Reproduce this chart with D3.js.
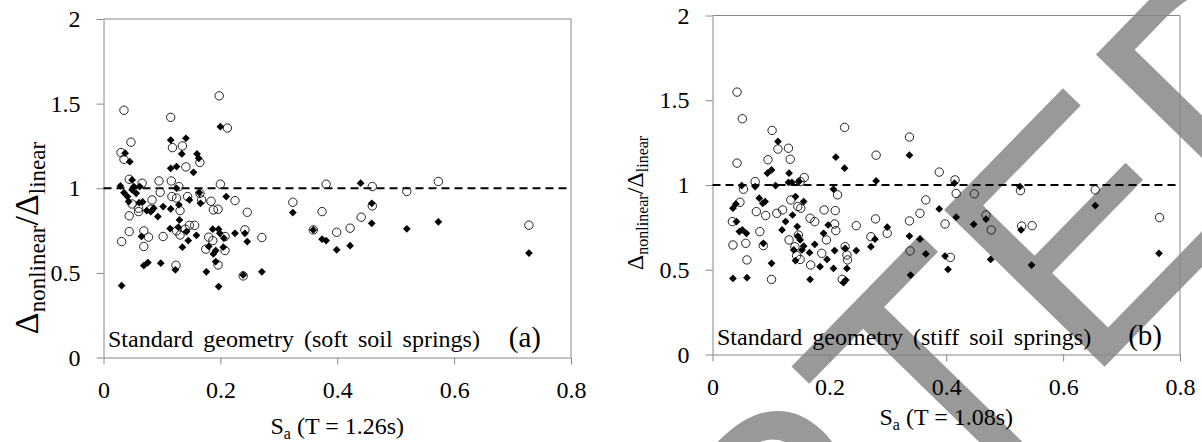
<!DOCTYPE html>
<html>
<head>
<meta charset="utf-8">
<script src="https://cdn.jsdelivr.net/npm/d3@7"></script>
<style>
  body { margin: 0; background: #fff; }
  svg { display: block; }
  .serif { font-family: "Liberation Serif", "Times New Roman", serif; }
</style>
</head>
<body>
<div id="chart"></div>
<script>
'use strict';

// tick values shared by both panels
var xTicks = [0, 0.2, 0.4, 0.6, 0.8];
var yTicks = [0, 0.5, 1, 1.5, 2];

// (a) soft soil springs, T = 1.26s  -- [Sa, ratio]
var softCircles = [
  [0.035,1.461],[0.198,1.546],[0.115,1.419],[0.212,1.356],[0.047,1.272],[0.030,1.211],[0.035,1.171],
  [0.118,1.240],[0.135,1.250],[0.141,1.126],[0.165,1.152],[0.044,1.053],[0.066,1.030],[0.095,1.043],
  [0.116,1.043],[0.129,1.010],[0.200,1.024],[0.097,0.976],[0.083,0.931],[0.117,0.951],[0.144,0.951],
  [0.165,0.970],[0.168,0.931],[0.184,0.923],[0.225,0.927],[0.188,0.872],[0.196,0.876],[0.246,0.858],
  [0.049,0.907],[0.060,0.862],[0.044,0.837],[0.081,0.876],[0.131,0.868],[0.147,0.781],[0.156,0.781],
  [0.044,0.744],[0.069,0.748],[0.077,0.711],[0.031,0.685],[0.069,0.656],[0.102,0.715],[0.125,0.748],
  [0.131,0.724],[0.140,0.758],[0.180,0.711],[0.187,0.691],[0.175,0.640],[0.208,0.715],[0.208,0.632],
  [0.196,0.547],[0.124,0.545],[0.242,0.754],[0.271,0.709],[0.239,0.482],[0.060,0.882],[0.125,0.942],
  [0.324,0.917],[0.381,1.024],[0.374,0.862],[0.359,0.754],[0.399,0.740],[0.422,0.764],[0.441,0.829],
  [0.460,1.010],[0.460,0.896],[0.519,0.981],[0.573,1.040],[0.728,0.782]
];
var softDiamonds = [
  [0.031,0.425],[0.037,1.207],[0.045,1.157],[0.029,1.014],[0.035,0.974],[0.041,0.951],[0.049,0.990],
  [0.052,1.010],[0.043,0.921],[0.056,0.970],[0.062,1.010],[0.049,1.049],[0.065,0.715],[0.069,0.543],
  [0.076,0.561],[0.098,0.557],[0.123,0.518],[0.061,0.915],[0.067,0.919],[0.074,0.868],[0.081,0.862],
  [0.086,0.882],[0.093,0.833],[0.102,0.892],[0.115,1.285],[0.115,1.118],[0.125,1.128],[0.134,1.203],
  [0.141,1.295],[0.154,1.094],[0.160,1.203],[0.163,1.177],[0.164,0.974],[0.166,0.911],[0.147,0.931],
  [0.125,1.000],[0.115,0.878],[0.130,0.813],[0.128,0.770],[0.114,0.762],[0.135,0.652],[0.145,0.691],
  [0.142,0.744],[0.159,0.722],[0.176,0.506],[0.180,0.656],[0.187,0.758],[0.188,0.612],[0.192,0.632],
  [0.197,0.758],[0.199,0.734],[0.192,0.567],[0.197,0.419],[0.200,1.364],[0.210,0.951],[0.206,0.705],
  [0.205,0.652],[0.225,0.734],[0.242,0.734],[0.246,0.685],[0.239,0.488],[0.271,0.506],[0.129,0.902],
  [0.324,0.856],[0.359,0.754],[0.374,0.699],[0.381,0.691],[0.399,0.636],[0.422,0.661],[0.440,1.030],
  [0.459,0.911],[0.459,0.793],[0.519,0.760],[0.573,0.802],[0.728,0.617]
];

// (b) stiff soil springs, T = 1.08s
var stiffCircles = [
  [0.042,1.548],[0.051,1.391],[0.042,1.129],[0.035,0.646],[0.034,0.784],[0.047,0.898],[0.053,0.975],
  [0.073,1.020],[0.075,0.843],[0.081,0.725],[0.091,0.820],[0.057,0.656],[0.059,0.558],[0.102,1.322],
  [0.095,1.149],[0.112,1.212],[0.130,1.217],[0.133,1.152],[0.110,0.833],[0.120,0.853],[0.134,0.912],
  [0.146,0.873],[0.151,0.863],[0.157,1.044],[0.150,1.020],[0.101,0.443],[0.087,0.642],[0.131,0.676],
  [0.147,0.705],[0.141,0.636],[0.150,0.561],[0.144,0.583],[0.167,0.804],[0.175,0.784],[0.168,0.528],
  [0.191,0.853],[0.187,0.597],[0.195,0.676],[0.210,0.849],[0.214,0.942],[0.209,0.770],[0.211,0.731],
  [0.226,1.340],[0.227,0.636],[0.230,0.587],[0.231,0.558],[0.222,0.443],[0.246,0.760],[0.271,0.695],
  [0.279,0.800],[0.280,1.176],[0.299,0.715],[0.337,1.283],[0.337,0.788],[0.338,0.611],[0.355,0.833],
  [0.365,0.912],[0.388,1.076],[0.398,0.770],[0.415,1.030],[0.417,0.950],[0.448,0.948],[0.407,0.573],
  [0.468,0.823],[0.477,0.735],[0.527,0.967],[0.529,0.758],[0.547,0.760],[0.655,0.971],[0.765,0.808]
];
var stiffDiamonds = [
  [0.035,0.449],[0.059,0.453],[0.035,0.863],[0.040,0.888],[0.050,0.997],[0.041,0.784],[0.046,0.725],
  [0.051,0.735],[0.058,0.715],[0.073,0.991],[0.080,0.922],[0.086,0.892],[0.090,0.902],[0.094,1.070],
  [0.101,1.089],[0.108,0.997],[0.112,1.257],[0.087,0.656],[0.101,0.538],[0.119,0.735],[0.125,0.784],
  [0.131,1.070],[0.130,1.015],[0.136,1.015],[0.137,0.823],[0.142,0.932],[0.145,0.755],[0.146,0.699],
  [0.148,1.020],[0.156,0.902],[0.139,0.617],[0.142,0.554],[0.150,0.676],[0.153,0.617],[0.156,0.640],
  [0.166,0.601],[0.167,0.443],[0.175,0.650],[0.184,0.518],[0.190,0.715],[0.196,0.561],[0.198,0.764],
  [0.207,0.975],[0.211,1.164],[0.226,1.099],[0.207,0.508],[0.209,0.613],[0.227,0.626],[0.230,0.508],
  [0.224,0.424],[0.228,0.439],[0.246,0.613],[0.271,0.636],[0.278,0.680],[0.280,1.024],[0.299,0.751],
  [0.337,1.176],[0.337,0.699],[0.339,0.469],[0.355,0.680],[0.365,0.593],[0.388,0.859],[0.398,0.581],
  [0.403,0.502],[0.414,1.011],[0.417,0.810],[0.447,0.768],[0.468,0.798],[0.476,0.561],[0.526,0.991],
  [0.528,0.735],[0.546,0.528],[0.655,0.879],[0.764,0.597]
];

var panels = [
  {circles: softCircles, diamonds: softDiamonds, period: "1.26s",
   note: "Standard geometry (soft soil springs)", tag: "(a)",
   left: 103.5, right: 571, top: 19, bottom: 357.5, tagEnd: 541,
   xTitleY: 434, yTitleX: 38, yTitleY: 238, yTitleSize: 34, noteY: 347},
  {circles: stiffCircles, diamonds: stiffDiamonds, period: "1.08s",
   note: "Standard geometry (stiff soil springs)", tag: "(b)",
   left: 712.5, right: 1180, top: 15.5, bottom: 354.5, tagEnd: 1162,
   xTitleY: 425, yTitleX: 643, yTitleY: 203, yTitleSize: 24, noteY: 345}
];

var axisGrey = "#868686";

var svg = d3.select("#chart").append("svg")
  .attr("width", 1202)
  .attr("height", 442);

// grey watermark behind the charts, anchored at the corner of the T bar
svg.append("text")
  .attr("transform", "translate(785,360) rotate(-45.7)")
  .attr("x", -1130.6)
  .attr("y", 233.4)
  .style("font-family", "'Liberation Sans', Arial, sans-serif")
  .style("font-size", "326px")
  .attr("fill", "#999")
  .text("ACCEPTED");

panels.forEach(function(p) {
  var x = d3.scaleLinear().domain([0, 0.8]).range([p.left, p.right]);
  var y = d3.scaleLinear().domain([0, 2]).range([p.bottom, p.top]);
  var g = svg.append("g");

  // top and right frame
  g.append("path")
    .attr("d", "M" + p.left + "," + p.top + "H" + p.right + "V" + p.bottom)
    .attr("fill", "none")
    .attr("stroke", axisGrey);

  var xAxis = g.append("g")
    .attr("transform", "translate(0," + p.bottom + ")")
    .call(d3.axisBottom(x).tickValues(xTicks).tickSize(7).tickSizeOuter(0)
      .tickPadding(16).tickFormat(d3.format("~g")));
  var yAxis = g.append("g")
    .attr("transform", "translate(" + p.left + ",0)")
    .call(d3.axisLeft(y).tickValues(yTicks).tickSize(7).tickSizeOuter(0)
      .tickPadding(16).tickFormat(d3.format("~g")));

  [xAxis, yAxis].forEach(function(a) {
    a.attr("font-family", null).attr("font-size", null).attr("class", "serif");
    a.select(".domain").attr("stroke", axisGrey);
    a.selectAll(".tick line").attr("stroke", axisGrey);
    a.selectAll(".tick text")
      .attr("fill", "#000")
      .style("font-size", "24px");
  });

  // reference line at ratio = 1
  g.append("line")
    .attr("x1", x(0)).attr("x2", x(0.8))
    .attr("y1", y(1)).attr("y2", y(1))
    .attr("stroke", "#000")
    .attr("stroke-width", 2)
    .attr("stroke-dasharray", "8,5");

  g.selectAll(".circ")
    .data(p.circles)
    .enter().append("circle")
    .attr("class", "circ")
    .attr("cx", function(d) { return x(d[0]); })
    .attr("cy", function(d) { return y(d[1]); })
    .attr("r", 4.2)
    .attr("fill", "none")
    .attr("stroke", "#222")
    .attr("stroke-width", 1);

  g.selectAll(".diam")
    .data(p.diamonds)
    .enter().append("path")
    .attr("class", "diam")
    .attr("d", d3.symbol(d3.symbolSquare, 30))
    .attr("transform", function(d) { return "translate(" + x(d[0]) + "," + y(d[1]) + ") rotate(45)"; })
    .attr("fill", "#000");

  // annotation inside the plot
  g.append("text")
    .attr("class", "serif")
    .attr("x", p.left + 4.5)
    .attr("y", p.noteY)
    .style("font-size", "24px")
    .style("word-spacing", "4px")
    .text(p.note);
  g.append("text")
    .attr("class", "serif")
    .attr("x", p.tagEnd)
    .attr("y", p.noteY)
    .attr("text-anchor", "end")
    .style("font-size", "29px")
    .text(p.tag);

  // x axis title  S_a (T = ...)
  var xt = g.append("text")
    .attr("class", "serif")
    .attr("x", (p.left + p.right) / 2)
    .attr("y", p.xTitleY)
    .attr("text-anchor", "middle")
    .style("font-size", "24px");
  xt.append("tspan").text("S");
  xt.append("tspan").attr("dy", 5).style("font-size", "16px").text("a");
  xt.append("tspan").attr("dy", -5).text(" (T = " + p.period + ")");

  // y axis title  Δnonlinear/Δlinear
  var s = p.yTitleSize, sub = Math.round(s * 0.67), sh = Math.round(s * 0.2);
  var yt = g.append("text")
    .attr("class", "serif")
    .attr("transform", "translate(" + p.yTitleX + "," + p.yTitleY + ") rotate(-90)")
    .attr("text-anchor", "middle")
    .style("font-size", s + "px");
  yt.append("tspan").text("\u0394");
  yt.append("tspan").attr("dy", sh).style("font-size", sub + "px").text("nonlinear");
  yt.append("tspan").attr("dy", -sh).text("/\u0394");
  yt.append("tspan").attr("dy", sh).style("font-size", sub + "px").text("linear");
});
</script>
</body>
</html>
